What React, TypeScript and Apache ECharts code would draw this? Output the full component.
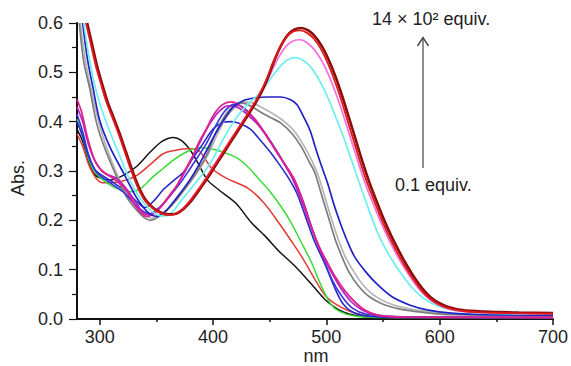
import React, { useEffect, useRef } from "react";
import * as echarts from "echarts";

// Absorbance spectra: [wavelength nm, absorbance]
const black = [[280,0.385],[285,0.36],[290,0.32],[295,0.295],[300,0.286],[310,0.282],[320,0.29],[332,0.308],[344,0.337],[355,0.36],[365,0.368],[372,0.362],[380,0.342],[387,0.315],[395,0.282],[405,0.262],[420,0.235],[434,0.195],[446,0.168],[458,0.138],[472,0.108],[486,0.073],[499,0.039],[510,0.02],[520,0.01],[535,0.004],[560,0.002],[600,0.002],[700,0.003]];
const redThin = [[280,0.375],[285,0.35],[290,0.315],[297,0.285],[304,0.276],[318,0.278],[332,0.29],[344,0.312],[356,0.335],[367,0.342],[378,0.345],[388,0.34],[399,0.305],[412,0.285],[431,0.265],[445,0.235],[458,0.195],[470,0.155],[480,0.12],[490,0.08],[500,0.045],[512,0.025],[525,0.012],[540,0.005],[570,0.003],[700,0.003]];
const green = [[280,0.405],[285,0.37],[290,0.325],[297,0.295],[307,0.275],[318,0.262],[328,0.258],[338,0.268],[347,0.288],[356,0.305],[365,0.322],[376,0.338],[388,0.347],[398,0.345],[408,0.339],[420,0.328],[430,0.31],[440,0.285],[449,0.262],[460,0.228],[469,0.195],[478,0.155],[487,0.114],[495,0.07],[504,0.03],[512,0.015],[525,0.006],[550,0.003],[700,0.003]];
const blueLow = [[280,0.4],[285,0.37],[290,0.33],[297,0.3],[310,0.28],[325,0.255],[334,0.235],[340,0.226],[348,0.24],[356,0.262],[365,0.28],[374,0.298],[382,0.325],[391,0.355],[400,0.385],[408,0.398],[416,0.4],[425,0.395],[433,0.385],[442,0.362],[450,0.34],[458,0.315],[466,0.288],[474,0.255],[482,0.205],[490,0.155],[499,0.11],[508,0.06],[515,0.03],[525,0.012],[540,0.005],[570,0.003],[700,0.003]];
const blueMid = [[280,0.415],[285,0.38],[290,0.335],[297,0.298],[310,0.275],[322,0.255],[333,0.228],[344,0.213],[352,0.225],[361,0.247],[370,0.272],[379,0.302],[387,0.33],[394,0.355],[402,0.39],[410,0.42],[418,0.435],[426,0.43],[435,0.41],[445,0.38],[455,0.345],[463,0.315],[472,0.28],[480,0.235],[488,0.18],[496,0.13],[505,0.08],[514,0.045],[523,0.022],[535,0.01],[560,0.005],[700,0.003]];
const magenta = [[280,0.445],[284,0.42],[289,0.37],[295,0.325],[302,0.3],[312,0.285],[322,0.265],[333,0.225],[341,0.208],[348,0.214],[355,0.23],[362,0.252],[368,0.27],[375,0.3],[382,0.33],[388,0.36],[394,0.385],[401,0.415],[408,0.434],[416,0.44],[423,0.434],[430,0.42],[437,0.405],[444,0.382],[451,0.357],[458,0.332],[466,0.305],[472,0.282],[480,0.235],[487,0.185],[494,0.145],[501,0.114],[508,0.085],[516,0.058],[525,0.035],[534,0.018],[545,0.008],[570,0.004],[700,0.003]];
const purple = [[280,0.43],[285,0.4],[290,0.355],[297,0.315],[305,0.295],[315,0.285],[325,0.26],[333,0.232],[341,0.212],[350,0.218],[358,0.238],[366,0.262],[374,0.293],[382,0.328],[390,0.365],[397,0.395],[405,0.42],[413,0.432],[421,0.43],[430,0.415],[440,0.393],[450,0.362],[460,0.325],[470,0.285],[478,0.24],[486,0.19],[494,0.142],[502,0.105],[512,0.065],[522,0.035],[532,0.018],[545,0.008],[570,0.004],[700,0.003]];
const grayDark = [[282,0.6],[286,0.52],[291,0.47],[297,0.4],[304,0.349],[315,0.288],[323,0.25],[331,0.225],[339,0.206],[345,0.2],[352,0.207],[360,0.222],[368,0.242],[376,0.266],[385,0.296],[394,0.33],[402,0.375],[410,0.41],[418,0.432],[425,0.438],[433,0.432],[443,0.418],[452,0.407],[460,0.397],[470,0.375],[478,0.349],[485,0.318],[490,0.296],[496,0.25],[502,0.205],[508,0.16],[514,0.125],[520,0.095],[528,0.068],[538,0.045],[550,0.03],[565,0.02],[580,0.015],[600,0.01],[650,0.008],[700,0.007]];
const grayLight = [[283,0.6],[287,0.53],[292,0.47],[298,0.41],[305,0.355],[315,0.295],[324,0.255],[332,0.228],[340,0.21],[346,0.204],[354,0.212],[362,0.228],[370,0.25],[378,0.272],[387,0.3],[396,0.335],[404,0.375],[412,0.41],[420,0.43],[428,0.44],[436,0.437],[446,0.425],[455,0.413],[463,0.4],[472,0.38],[480,0.352],[487,0.322],[493,0.29],[499,0.245],[505,0.2],[511,0.158],[517,0.125],[524,0.097],[532,0.07],[542,0.048],[555,0.032],[570,0.022],[590,0.015],[620,0.01],[700,0.008]];
const blueBroad = [[285,0.6],[289,0.53],[294,0.47],[300,0.403],[309,0.349],[321,0.296],[332,0.248],[339,0.225],[345,0.212],[351,0.208],[358,0.218],[365,0.237],[372,0.258],[379,0.28],[387,0.31],[394,0.34],[402,0.375],[410,0.405],[418,0.43],[427,0.443],[437,0.448],[448,0.45],[460,0.45],[468,0.445],[474,0.435],[481,0.405],[486,0.38],[490,0.35],[495,0.315],[501,0.276],[507,0.23],[513,0.19],[519,0.155],[525,0.126],[535,0.095],[545,0.07],[558,0.045],[574,0.028],[590,0.018],[610,0.012],[640,0.009],[700,0.008]];
const cyan = [[286,0.6],[290,0.54],[295,0.48],[301,0.43],[308,0.385],[316,0.34],[324,0.295],[332,0.258],[340,0.232],[347,0.217],[354,0.209],[360,0.21],[366,0.222],[372,0.24],[379,0.26],[386,0.28],[393,0.3],[400,0.325],[408,0.36],[416,0.392],[424,0.418],[432,0.438],[440,0.455],[447,0.475],[454,0.497],[461,0.516],[467,0.527],[473,0.53],[479,0.525],[485,0.514],[491,0.495],[497,0.47],[503,0.44],[509,0.405],[515,0.37],[521,0.33],[527,0.29],[533,0.25],[539,0.212],[545,0.176],[552,0.143],[559,0.116],[566,0.092],[574,0.068],[582,0.049],[590,0.036],[598,0.027],[606,0.021],[618,0.016],[640,0.012],[700,0.01]];
const pink = [[288,0.6],[292,0.56],[297,0.51],[302,0.47],[306,0.44],[311,0.41],[316,0.38],[322,0.34],[328,0.3],[334,0.266],[340,0.241],[347,0.225],[354,0.215],[361,0.212],[367,0.214],[373,0.223],[380,0.241],[387,0.263],[394,0.287],[401,0.312],[408,0.337],[415,0.362],[422,0.386],[429,0.41],[435,0.43],[441,0.452],[447,0.478],[453,0.508],[459,0.535],[465,0.554],[471,0.564],[477,0.566],[483,0.56],[489,0.547],[495,0.527],[501,0.5],[507,0.466],[513,0.427],[519,0.384],[525,0.34],[531,0.297],[537,0.258],[543,0.224],[549,0.191],[556,0.157],[563,0.126],[570,0.099],[577,0.075],[584,0.055],[591,0.04],[598,0.03],[606,0.022],[618,0.016],[640,0.013],[700,0.011]];
const darkRed = [[289,0.6],[293,0.56],[298,0.51],[303,0.47],[307,0.44],[312,0.41],[317,0.38],[323,0.34],[329,0.3],[335,0.265],[341,0.24],[348,0.224],[355,0.215],[362,0.212],[368,0.214],[374,0.223],[381,0.24],[388,0.262],[395,0.285],[402,0.31],[409,0.335],[416,0.36],[423,0.385],[430,0.41],[436,0.432],[442,0.456],[448,0.487],[454,0.523],[460,0.554],[466,0.576],[472,0.587],[478,0.59],[484,0.585],[490,0.573],[496,0.553],[502,0.526],[508,0.492],[514,0.452],[520,0.408],[526,0.363],[532,0.318],[538,0.277],[544,0.241],[550,0.206],[557,0.17],[564,0.138],[571,0.109],[578,0.083],[585,0.061],[592,0.044],[599,0.033],[607,0.025],[620,0.018],[640,0.015],[670,0.013],[700,0.012]];
const redThick = [[288,0.6],[292,0.56],[297,0.51],[302,0.47],[306,0.44],[311,0.41],[316,0.38],[322,0.34],[328,0.3],[334,0.265],[340,0.24],[347,0.224],[354,0.214],[361,0.211],[367,0.213],[373,0.222],[380,0.24],[387,0.262],[394,0.285],[401,0.31],[408,0.335],[415,0.36],[422,0.385],[429,0.41],[435,0.432],[441,0.456],[447,0.485],[453,0.52],[459,0.55],[465,0.572],[471,0.583],[477,0.585],[483,0.58],[489,0.568],[495,0.548],[501,0.52],[507,0.485],[513,0.445],[519,0.4],[525,0.355],[531,0.31],[537,0.27],[543,0.235],[549,0.2],[556,0.165],[563,0.133],[570,0.105],[577,0.08],[584,0.058],[591,0.042],[598,0.031],[606,0.023],[618,0.017],[632,0.014],[660,0.012],[700,0.011]];

const xTicks = [300, 400, 500, 600, 700];
const xMinorTicks = [350, 450, 550, 650];

const FONT = "'Liberation Sans', Arial, Helvetica, sans-serif";

const seriesDefs = [
  { name: "black", data: black, color: "#151515", width: 1.5 },
  { name: "redThin", data: redThin, color: "#e33a35", width: 1.5 },
  { name: "green", data: green, color: "#35dd35", width: 1.5 },
  { name: "blueLow", data: blueLow, color: "#2a2ac8", width: 1.6 },
  { name: "grayLight", data: grayLight, color: "#b4b4b4", width: 1.7 },
  { name: "grayDark", data: grayDark, color: "#7c7c7c", width: 1.7 },
  { name: "blueMid", data: blueMid, color: "#3535e0", width: 1.6 },
  { name: "purple", data: purple, color: "#b324c4", width: 1.7 },
  { name: "magenta", data: magenta, color: "#e0208c", width: 1.8 },
  { name: "blueBroad", data: blueBroad, color: "#2222c4", width: 1.7 },
  { name: "cyan", data: cyan, color: "#6cefef", width: 1.7 },
  { name: "pink", data: pink, color: "#ef72e0", width: 1.7 },
  { name: "darkRed", data: darkRed, color: "#8a0c0c", width: 2.6 },
  { name: "redThick", data: redThick, color: "#e01a1a", width: 1.8 },
];

export default function App() {
  const ref = useRef<HTMLDivElement>(null);
  useEffect(() => {
    if (!ref.current) return;
    const chart = echarts.init(ref.current, undefined, { renderer: "svg" });
    chart.setOption({
      animation: false,
      backgroundColor: "#ffffff",
      grid: { left: 77, right: 15, top: 23, bottom: 47 },
      xAxis: [
        {
          type: "value",
          min: 280,
          max: 700,
          splitLine: { show: false },
          axisLine: { show: true, lineStyle: { color: "#111", width: 2 } },
          axisTick: { show: true, customValues: xTicks, length: 6, lineStyle: { color: "#111", width: 1.5 } },
          axisLabel: { customValues: xTicks, margin: 9, fontSize: 18, color: "#222", fontFamily: FONT },
        },
        {
          type: "value",
          min: 280,
          max: 700,
          position: "bottom",
          splitLine: { show: false },
          axisLine: { show: false },
          axisTick: { show: true, customValues: xMinorTicks, length: 3, lineStyle: { color: "#111", width: 1.5 } },
          axisLabel: { show: false },
        },
      ],
      yAxis: {
        type: "value",
        min: 0,
        max: 0.6,
        interval: 0.1,
        splitLine: { show: false },
        axisLine: { show: true, lineStyle: { color: "#111", width: 2 } },
        axisTick: { show: true, length: 8, lineStyle: { color: "#111", width: 1.2 } },
        minorTick: { show: true, splitNumber: 2, length: 5, lineStyle: { color: "#111", width: 1.2 } },
        axisLabel: {
          margin: 14,
          fontSize: 18,
          color: "#222",
          fontFamily: FONT,
          formatter: (v: number) => v.toFixed(1),
        },
      },
      series: seriesDefs.map((s) => ({
        name: s.name,
        type: "line",
        xAxisIndex: 0,
        data: s.data,
        showSymbol: false,
        symbol: "none",
        smooth: 0.3,
        clip: true,
        lineStyle: { color: s.color, width: s.width },
      })),
      graphic: [
        {
          type: "text",
          left: 372,
          top: 10,
          style: { text: "14 × 10² equiv.", fontSize: 18, fill: "#222", fontFamily: FONT },
        },
        {
          type: "line",
          shape: { x1: 423, y1: 168, x2: 423, y2: 38 },
          style: { stroke: "#444", lineWidth: 1.2 },
        },
        {
          type: "polyline",
          shape: { points: [[417.5, 46], [423, 37.5], [428.5, 46]] },
          style: { stroke: "#444", lineWidth: 1.4, fill: null },
        },
        {
          type: "text",
          left: 395,
          top: 176,
          style: { text: "0.1 equiv.", fontSize: 18, fill: "#222", fontFamily: FONT },
        },
        {
          type: "text",
          x: 18,
          y: 178,
          rotation: Math.PI / 2,
          style: { text: "Abs.", fontSize: 18, fill: "#222", fontFamily: FONT, align: "center", verticalAlign: "middle" },
        },
        {
          type: "text",
          x: 316,
          y: 356,
          style: { text: "nm", fontSize: 18, fill: "#222", fontFamily: FONT, align: "center", verticalAlign: "middle" },
        },
      ],
    });
    return () => chart.dispose();
  }, []);
  return (
    <div
      ref={ref}
      style={{ position: "fixed", left: 0, top: 0, width: 571, height: 366, background: "#fff" }}
    />
  );
}
